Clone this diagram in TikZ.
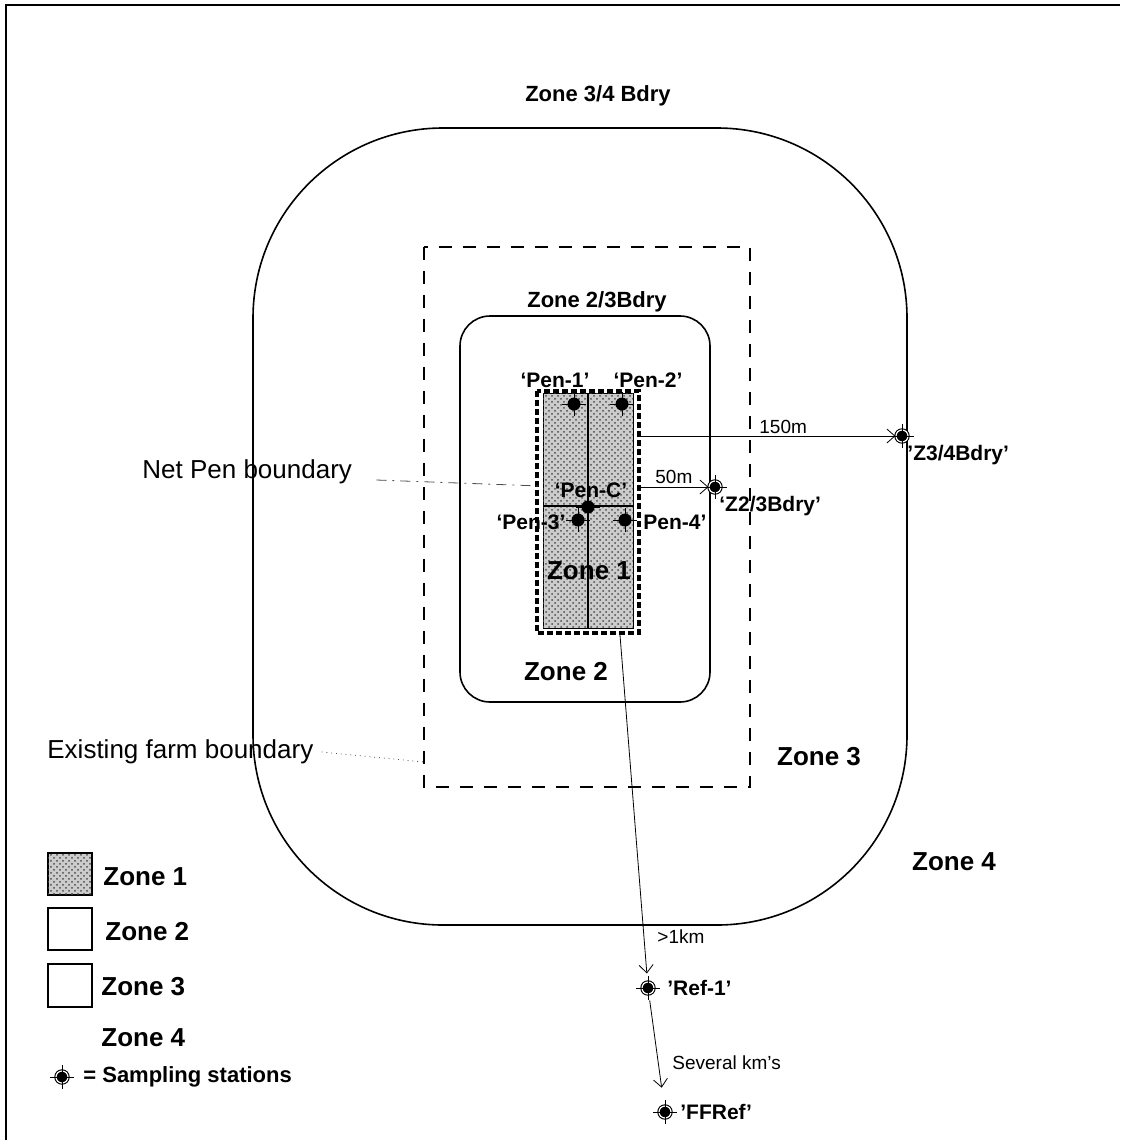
\documentclass[tikz,border=0pt]{standalone}
\usepackage{fontspec}
\setmainfont{Liberation Sans}
\usetikzlibrary{arrows.meta,positioning,patterns}

\tikzset{
  zonelbl/.style={font=\bfseries\fontsize{13}{15}\selectfont, inner sep=1pt},
  bdrylbl/.style={font=\bfseries\fontsize{11}{13}\selectfont, inner sep=1pt},
  stnlbl/.style={font=\bfseries\fontsize{10.5}{12}\selectfont, inner sep=1pt},
  distlbl/.style={font=\fontsize{9.5}{11}\selectfont, inner sep=1pt},
  notelbl/.style={font=\fontsize{13}{15}\selectfont, inner sep=1pt},
  penstn/.style={circle, fill=black, inner sep=0pt, minimum size=6.5pt},
  station/.style={circle, fill=black, draw=black, double=white, double distance=0.6pt,
    line width=0.55pt, inner sep=0pt, minimum size=6pt},
  farmbdry/.style={line width=1.3pt, dash pattern=on 6.5pt off 5.5pt},
  penbdry/.style={line width=2.2pt, dash pattern=on 3pt off 1.5pt},
  zonefill/.style={fill=gray!40, postaction={pattern=crosshatch dots, pattern color=gray!60!black}},
  leader/.style={thin, gray!60!black},
  dist/.style={-{Straight Barb[length=4pt,width=7pt]}, thin},
}

\begin{document}
\begin{tikzpicture}[x=0.5pt,y=-0.5pt]
\useasboundingbox (0,0) rectangle (1120,1140);

% frame
\draw[line width=0.9pt] (1120,5) -- (6,5) -- (6,1140);

% zone boundaries
\draw[thick, rounded corners=95pt] (253,128) rectangle (907,925);
\node[bdrylbl] (z34title) at (598,96) {Zone 3/4 Bdry};

\draw[farmbdry] (424,247) rectangle (750,787);

\draw[thick, rounded corners=15pt] (460,316) rectangle (710,702);
\node[bdrylbl] (z23title) at (597,302) {Zone 2/3Bdry};

% net pen
\draw[penbdry] (537,391) rectangle (639,633);
\draw[zonefill, thin] (543,393) rectangle (633,628);
\draw[thick] (588,393) -- (588,628);
\draw[thick] (543,506) -- (633,506);
\coordinate (pennw) at (537,391);
\coordinate (pense) at (639,633);
\coordinate (penout) at (620,635);

% sampling stations
\node[penstn] (pen1) at (574,404) {};
\node[penstn] (pen2) at (622,404) {};
\node[penstn] (penc) at (588,507) {};
\node[penstn] (pen3) at (578,520) {};
\node[penstn] (pen4) at (625,520) {};
\node[station] (z23) at (715,487) {};
\node[station] (z34) at (902,436) {};
\node[station] (ref1) at (648,988) {};
\node[station] (ffref) at (665,1112) {};
\node[station] (legstn) at (62,1077) {};

\foreach \s in {pen1,pen2,penc,pen3,pen4,z23,z34,ref1,ffref,legstn}
  \draw[thin] ([xshift=-6pt]\s.center) -- ([xshift=6pt]\s.center)
              ([yshift=-6pt]\s.center) -- ([yshift=6pt]\s.center);

\node[stnlbl] at (555,380) (pen1lbl) {`Pen-1'};
\node[stnlbl] at (648,380) (pen2lbl) {`Pen-2'};
\node[stnlbl] at (591,490) (penclbl) {`Pen-C'};
\node[stnlbl] at (531,522) (pen3lbl) {`Pen-3'};
\node[stnlbl, anchor=west] at (641,522) (pen4lbl) {Pen-4'};
\node[stnlbl, anchor=west] at (717,506) (z23lbl) {`Z2/3Bdry'};
\node[stnlbl, anchor=west] at (905,455) (z34lbl) {'Z3/4Bdry'};
\node[stnlbl, anchor=west] at (665,988) (ref1lbl) {'Ref-1'};
\node[stnlbl, anchor=west] at (678,1112) (ffreflbl) {'FFRef'};

% distances
\draw[dist] (pense |- z34) -- (z34);
\node[distlbl, anchor=west] at (757,427) (d150) {150m};
\draw[dist] (pense |- z23) -- (z23);
\node[distlbl, anchor=west] at (653,477) (d50) {50m};
\draw[dist, shorten >=4pt] (penout) -- (ref1);
\node[distlbl, anchor=west] at (655,937) (d1km) {>1km};
\draw[dist, shorten <=3pt, shorten >=9pt] (ref1) -- (ffref);
\node[distlbl, anchor=west] at (670,1063) (dkms) {Several km's};

% zone names
\node[zonelbl] (zone1) at (589,571) {Zone 1};
\node[zonelbl] (zone2) at (566,672) {Zone 2};
\node[zonelbl] (zone3) at (819,757) {Zone 3};
\node[zonelbl] (zone4) at (954,862) {Zone 4};

% notes
\node[notelbl, anchor=west] (netpenlbl) at (140,472) {Net Pen boundary};
\coordinate (netpenend) at (540,486);
\draw[leader, dash pattern=on 5pt off 3pt on 1pt off 3pt] ([xshift=11pt,yshift=-4pt]netpenlbl.east) -- (netpenend);
\node[notelbl, anchor=west] (farmlbl) at (45,752) {Existing farm boundary};
\coordinate (farmend) at (424,762);
\draw[leader, dotted] ([xshift=3pt]farmlbl.east) -- (farmend);

% legend
\draw[zonefill, thick] (48,853) rectangle (92,895);
\draw[thick] (48,908) rectangle (92,950);
\draw[thick] (48,964) rectangle (92,1007);
\node[zonelbl, anchor=west] (leg1) at (101,877) {Zone 1};
\node[zonelbl, anchor=west] (leg2) at (103,932) {Zone 2};
\node[zonelbl, anchor=west] (leg3) at (99,987) {Zone 3};
\node[zonelbl, anchor=west] (leg4) at (99,1038) {Zone 4};
\node[stnlbl, anchor=west, font=\bfseries\fontsize{11}{13}\selectfont] (legtxt) at (81,1077) {= Sampling stations};
\end{tikzpicture}
\end{document}
